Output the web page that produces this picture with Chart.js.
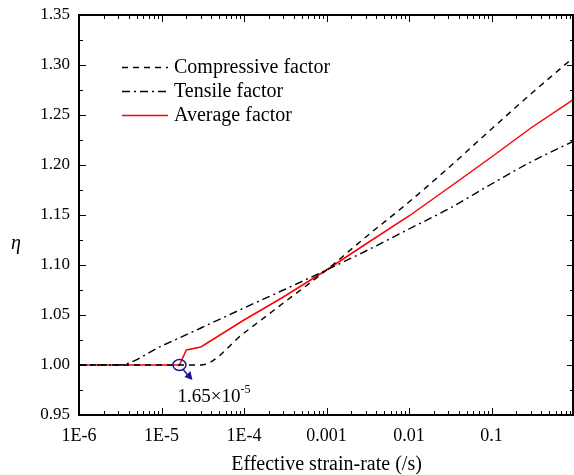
<!DOCTYPE html>
<html lang="en">
<head>
    <meta charset="UTF-8">
    <title>Strain-rate factor</title>
    <script src="https://cdn.jsdelivr.net/npm/chart.js@4.4.1/dist/chart.umd.min.js"></script>
    <style>
        html, body { margin: 0; padding: 0; background: #fff; }
        #wrap { width: 574px; height: 475px; }
    </style>
</head>
<body>
<div id="wrap"><canvas id="chart"></canvas></div>
<script>
    // strain-rates (/s)
    const rateComp = [1e-6, 1e-5, 3e-5, 1e-4, 3e-4, 1e-3, 3e-3, 1e-2, 3e-2, 0.1, 0.3, 1];
    const compressive = [1.000, 1.000, 1.000, 1.032, 1.062, 1.095, 1.128, 1.163, 1.197, 1.236, 1.271, 1.308];

    const rateTens = [1e-6, 3e-6, 1e-5, 3e-5, 1e-4, 3e-4, 1e-3, 3e-3, 1e-2, 3e-2, 0.1, 0.3, 1];
    const tensile = [1.000, 1.000, 1.019, 1.037, 1.057, 1.075, 1.095, 1.114, 1.136, 1.156, 1.181, 1.203, 1.224];

    const rateAvg = [1e-6, 1.65e-5, 2e-5, 3e-5, 1e-4, 3e-4, 1e-3, 3e-3, 1e-2, 3e-2, 0.1, 0.3, 1];
    const average = [1.000, 1.000, 1.015, 1.018, 1.045, 1.068, 1.095, 1.121, 1.149, 1.177, 1.208, 1.237, 1.266];

    const xDecades = [1e-6, 1e-5, 1e-4, 1e-3, 1e-2, 1e-1, 1];
    const xLabels = ['1E-6', '1E-5', '1E-4', '0.001', '0.01', '0.1', ''];
    const yTicks = [0.95, 1.00, 1.05, 1.10, 1.15, 1.20, 1.25, 1.30, 1.35];

    const markRate = 1.65e-5;
    const markValue = 1.0;

    const serif = '"Liberation Serif", "Times New Roman", serif';
    const dashComp = [6, 5];
    const dashTens = [8, 4, 2, 4];

    function pts(xs, ys) {
        return xs.map((x, i) => ({ x: x, y: ys[i] }));
    }

    // inward ticks on all four sides, frame, legend, annotation
    const decorations = {
        id: 'decorations',
        afterDraw(chart) {
            const ctx = chart.ctx;
            const a = chart.chartArea;
            const xs = chart.scales.x;
            const ys = chart.scales.y;
            ctx.save();
            ctx.strokeStyle = '#000';
            ctx.lineWidth = 1;

            // x ticks (major + minor), bottom and top
            ctx.beginPath();
            for (let d = 0; d < xDecades.length - 1; d++) {
                for (let m = 1; m <= 9; m++) {
                    const v = xDecades[d] * m;
                    const px = Math.round(xs.getPixelForValue(v)) + 0.5;
                    const len = m === 1 ? 7 : 4;
                    ctx.moveTo(px, a.bottom); ctx.lineTo(px, a.bottom - len);
                    ctx.moveTo(px, a.top); ctx.lineTo(px, a.top + len);
                }
            }
            // y ticks, left and right
            for (let i = 0; i < yTicks.length; i++) {
                const py = Math.round(ys.getPixelForValue(yTicks[i])) + 0.5;
                ctx.moveTo(a.left, py); ctx.lineTo(a.left + 7, py);
                ctx.moveTo(a.right, py); ctx.lineTo(a.right - 7, py);
                if (i < yTicks.length - 1) {
                    const pm = Math.round(ys.getPixelForValue(yTicks[i] + 0.025)) + 0.5;
                    ctx.moveTo(a.left, pm); ctx.lineTo(a.left + 4, pm);
                    ctx.moveTo(a.right, pm); ctx.lineTo(a.right - 4, pm);
                }
            }
            ctx.stroke();

            // frame
            ctx.lineWidth = 2;
            ctx.strokeRect(a.left, a.top, a.right - a.left - 1, a.bottom - a.top);

            // legend
            const rows = [
                { label: 'Compressive factor', color: '#000', dash: dashComp },
                { label: 'Tensile factor', color: '#000', dash: dashTens },
                { label: 'Average factor', color: '#ff0000', dash: [] }
            ];
            ctx.font = '20px ' + serif;
            ctx.textBaseline = 'middle';
            rows.forEach((r, i) => {
                const y = 67 + i * 24;
                ctx.beginPath();
                ctx.setLineDash(r.dash);
                ctx.lineWidth = 1.4;
                ctx.strokeStyle = r.color;
                ctx.moveTo(122, y + 0.5); ctx.lineTo(168, y + 0.5);
                ctx.stroke();
                ctx.setLineDash([]);
                ctx.fillStyle = '#000';
                ctx.fillText(r.label, 174, y + 1);
            });

            // annotation circle + arrow + label
            const cx = xs.getPixelForValue(markRate);
            const cy = ys.getPixelForValue(markValue);
            ctx.strokeStyle = '#1a1a8c';
            ctx.fillStyle = '#1a1a8c';
            ctx.lineWidth = 1.5;
            ctx.beginPath();
            ctx.ellipse(cx, cy, 6.5, 5.5, 0, 0, Math.PI * 2);
            ctx.stroke();
            const ax0 = cx + 4, ay0 = cy + 5, ax1 = cx + 13, ay1 = cy + 15;
            ctx.beginPath();
            ctx.moveTo(ax0, ay0); ctx.lineTo(ax1 - 2, ay1 - 2);
            ctx.stroke();
            ctx.beginPath();
            ctx.moveTo(ax1, ay1);
            ctx.lineTo(ax1 - 8, ay1 - 3);
            ctx.lineTo(ax1 - 2, ay1 - 9);
            ctx.closePath();
            ctx.fill();

            ctx.fillStyle = '#000';
            ctx.textBaseline = 'alphabetic';
            ctx.font = '19px ' + serif;
            const tx = cx - 2;
            const ty = cy + 37;
            ctx.fillText('1.65\u00d710', tx, ty);
            const w = ctx.measureText('1.65\u00d710').width;
            ctx.font = '12px ' + serif;
            ctx.fillText('-5', tx + w, ty - 9);

            // eta
            ctx.font = 'italic 20px ' + serif;
            ctx.textBaseline = 'middle';
            ctx.fillText('\u03b7', 11, 244);

            // x axis title
            ctx.font = '20px ' + serif;
            ctx.textAlign = 'center';
            ctx.fillText('Effective strain-rate (/s)', (a.left + a.right) / 2, 465);
            ctx.restore();
        }
    };

    const canvas = document.getElementById('chart');
    let chart = new Chart(canvas, {
        type: 'line',
        data: {
            datasets: [{
                label: 'Compressive factor',
                data: pts(rateComp, compressive),
                borderColor: '#000',
                borderWidth: 1.4,
                borderDash: dashComp,
                pointRadius: 0,
                cubicInterpolationMode: 'monotone'
            }, {
                label: 'Tensile factor',
                data: pts(rateTens, tensile),
                borderColor: '#000',
                borderWidth: 1.4,
                borderDash: dashTens,
                pointRadius: 0,
                cubicInterpolationMode: 'monotone'
            }, {
                label: 'Average factor',
                data: pts(rateAvg, average),
                borderColor: '#ff0000',
                borderWidth: 1.5,
                pointRadius: 0,
                tension: 0
            }]
        },
        options: {
            responsive: true,
            maintainAspectRatio: false,
            animation: false,
            layout: { padding: { top: 15, right: 0, left: 0, bottom: 0 } },
            plugins: {
                legend: { display: false },
                tooltip: { enabled: false }
            },
            scales: {
                x: {
                    type: 'logarithmic',
                    min: 1e-6,
                    max: 1,
                    grid: { display: false, drawTicks: false },
                    border: { display: false },
                    afterBuildTicks(scale) {
                        scale.ticks = xDecades.map(v => ({ value: v }));
                    },
                    afterFit(scale) {
                        scale.height = 60;
                        scale.paddingLeft = 0;
                        scale.paddingRight = 0;
                    },
                    ticks: {
                        autoSkip: false,
                        maxRotation: 0,
                        padding: 10,
                        color: '#000',
                        font: { family: serif, size: 18 },
                        callback: (v) => xLabels[xDecades.findIndex(d => Math.abs(Math.log10(d) - Math.log10(v)) < 1e-6)] || ''
                    }
                },
                y: {
                    min: 0.95,
                    max: 1.35,
                    grid: { display: false, drawTicks: false },
                    border: { display: false },
                    afterBuildTicks(scale) {
                        scale.ticks = yTicks.map(v => ({ value: v }));
                    },
                    afterFit(scale) {
                        scale.width = 79;
                        scale.paddingTop = 0;
                        scale.paddingBottom = 0;
                    },
                    ticks: {
                        padding: 9,
                        color: '#000',
                        font: { family: serif, size: 17 },
                        callback: (v) => Number(v).toFixed(2)
                    }
                }
            }
        },
        plugins: [decorations]
    });
</script>
</body>
</html>
